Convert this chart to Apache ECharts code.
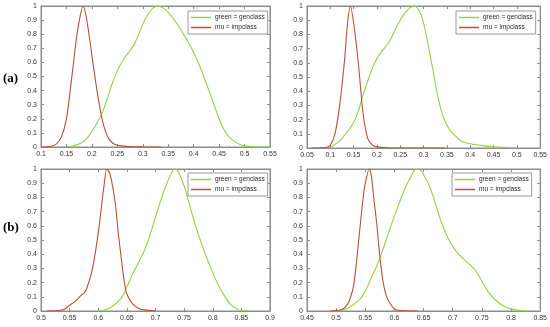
<!DOCTYPE html>
<html><head><meta charset="utf-8">
<script src="https://cdn.jsdelivr.net/npm/echarts@6/dist/echarts.min.js"></script>
<style>html,body{margin:0;padding:0;background:#fff}#c{width:550px;height:327px}</style>
</head><body><div id="c"></div>
<script>
// Panel (a) left
const a1Red = [[0.1,0],[0.12,0.005],[0.13,0.02],[0.14,0.07],[0.15,0.2],[0.16,0.48],[0.17,0.78],[0.177,0.93],[0.183,1.0],[0.19,0.9],[0.2,0.65],[0.21,0.4],[0.22,0.2],[0.23,0.08],[0.24,0.03],[0.25,0.012],[0.27,0.004],[0.3,0.001],[0.335,0]];
const a1Green = [[0.15,0],[0.16,0.005],[0.17,0.015],[0.18,0.03],[0.19,0.06],[0.2,0.11],[0.21,0.17],[0.22,0.24],[0.23,0.34],[0.24,0.45],[0.25,0.54],[0.26,0.61],[0.27,0.66],[0.28,0.71],[0.29,0.78],[0.3,0.87],[0.31,0.94],[0.32,0.985],[0.33,1.0],[0.34,0.985],[0.35,0.955],[0.36,0.91],[0.37,0.86],[0.38,0.8],[0.39,0.74],[0.4,0.67],[0.41,0.59],[0.42,0.5],[0.43,0.4],[0.44,0.3],[0.45,0.2],[0.46,0.12],[0.47,0.07],[0.48,0.04],[0.49,0.02],[0.5,0.008],[0.52,0],[0.55,0]];
// Panel (a) right
const a2Red = [[0.06,0],[0.09,0.003],[0.1,0.02],[0.11,0.1],[0.12,0.3],[0.13,0.6],[0.137,0.88],[0.143,1.0],[0.15,0.88],[0.16,0.6],[0.17,0.25],[0.18,0.07],[0.19,0.02],[0.2,0.008],[0.22,0.002],[0.25,0],[0.345,0]];
const a2Green = [[0.096,0],[0.1,0.005],[0.12,0.05],[0.14,0.13],[0.15,0.18],[0.16,0.26],[0.17,0.37],[0.18,0.47],[0.19,0.56],[0.2,0.63],[0.21,0.68],[0.22,0.72],[0.23,0.77],[0.24,0.84],[0.25,0.9],[0.26,0.95],[0.27,0.985],[0.28,1.0],[0.29,0.97],[0.3,0.88],[0.31,0.72],[0.32,0.55],[0.33,0.37],[0.34,0.24],[0.35,0.16],[0.36,0.11],[0.37,0.08],[0.38,0.05],[0.4,0.03],[0.43,0.015],[0.45,0.008],[0.5,0]];
// Panel (b) left
const b1Red = [[0.51,0],[0.53,0.003],[0.54,0.01],[0.55,0.04],[0.56,0.07],[0.57,0.11],[0.575,0.125],[0.58,0.16],[0.59,0.3],[0.6,0.55],[0.61,0.88],[0.615,1.0],[0.62,0.97],[0.625,0.88],[0.63,0.75],[0.635,0.55],[0.64,0.38],[0.645,0.22],[0.65,0.12],[0.66,0.05],[0.67,0.02],[0.68,0.008],[0.7,0]];
const b1Green = [[0.6,0],[0.62,0.02],[0.64,0.09],[0.65,0.17],[0.66,0.26],[0.67,0.34],[0.68,0.42],[0.69,0.53],[0.7,0.66],[0.71,0.79],[0.72,0.9],[0.73,0.99],[0.735,1.0],[0.74,0.98],[0.75,0.88],[0.76,0.74],[0.77,0.6],[0.78,0.48],[0.79,0.37],[0.8,0.27],[0.81,0.18],[0.82,0.11],[0.83,0.05],[0.84,0.02],[0.85,0.003],[0.86,0]];
// Panel (b) right
const b2Red = [[0.49,0],[0.51,0.01],[0.52,0.05],[0.525,0.1],[0.53,0.18],[0.535,0.35],[0.54,0.55],[0.545,0.75],[0.55,0.9],[0.557,1.0],[0.56,0.96],[0.565,0.78],[0.57,0.6],[0.575,0.38],[0.58,0.22],[0.585,0.12],[0.59,0.07],[0.6,0.015],[0.61,0.003],[0.64,0]];
const b2Green = [[0.5,0],[0.52,0.02],[0.54,0.08],[0.55,0.14],[0.56,0.23],[0.57,0.32],[0.58,0.43],[0.59,0.55],[0.6,0.67],[0.61,0.78],[0.62,0.88],[0.63,0.96],[0.637,1.0],[0.645,0.99],[0.65,0.96],[0.66,0.88],[0.67,0.76],[0.68,0.63],[0.69,0.53],[0.7,0.455],[0.71,0.4],[0.72,0.36],[0.73,0.325],[0.74,0.28],[0.75,0.21],[0.76,0.14],[0.77,0.09],[0.78,0.055],[0.79,0.03],[0.8,0.015],[0.81,0.006],[0.83,0]];

const xRanges = [[0.1,0.55],[0.05,0.55],[0.5,0.9],[0.45,0.85]];
const panelLabels = ['(a)','(b)'];
const legendNames = ['green = genclass','mu = impclass'];

const RED = '#b8503a', GREEN = '#8fd444';
const grids = [
  {left:41, right:280, top:6, bottom:180},
  {left:307, right:9, top:6, bottom:179},
  {left:41, right:280, top:169, bottom:16},
  {left:307, right:9, top:169, bottom:16}
];
const fmt = v => String(parseFloat(v.toFixed(2)));
const lblStyle = {color:'#333', fontSize:7, fontFamily:'Liberation Sans, Arial, sans-serif', margin:4};
const lineStyle = {lineStyle:{color:'#8c8c8c', width:1}};
const xAxis = [], yAxis = [];
grids.forEach((g,i)=>{
  g.show = true; g.borderColor = '#8c8c8c'; g.borderWidth = 1;
  xAxis.push({type:'value', gridIndex:i, min:xRanges[i][0], max:xRanges[i][1], interval:0.05,
    axisLine:{show:true, onZero:false, ...lineStyle}, axisTick:{show:true, inside:true, length:3, ...lineStyle},
    axisLabel:{...lblStyle, formatter:fmt, showMaxLabel:true, showMinLabel:true}, splitLine:{show:false}});
  xAxis.push({type:'value', gridIndex:i, position:'top', min:xRanges[i][0], max:xRanges[i][1], interval:0.05,
    axisLine:{show:true, onZero:false, ...lineStyle}, axisTick:{show:true, inside:true, length:3, ...lineStyle},
    axisLabel:{show:false}, splitLine:{show:false}});
  yAxis.push({type:'value', gridIndex:i, min:0, max:1, interval:0.1,
    axisLine:{show:true, onZero:false, ...lineStyle}, axisTick:{show:true, inside:true, length:3, ...lineStyle},
    axisLabel:{...lblStyle, formatter:fmt}, splitLine:{show:false}});
  yAxis.push({type:'value', gridIndex:i, position:'right', min:0, max:1, interval:0.1,
    axisLine:{show:true, onZero:false, ...lineStyle}, axisTick:{show:true, inside:true, length:3, ...lineStyle},
    axisLabel:{show:false}, splitLine:{show:false}});
});
const panels = [[a1Green,a1Red],[a2Green,a2Red],[b1Green,b1Red],[b2Green,b2Red]];
const series = [];
panels.forEach((p,i)=>{
  series.push({type:'line', name:legendNames[0], xAxisIndex:2*i, yAxisIndex:2*i, data:p[0], smooth:0.3,
    showSymbol:false, symbol:'none', lineStyle:{color:GREEN, width:1.1}, itemStyle:{color:GREEN}, silent:true});
  series.push({type:'line', name:legendNames[1], xAxisIndex:2*i, yAxisIndex:2*i, data:p[1], smooth:0.3,
    showSymbol:false, symbol:'none', lineStyle:{color:RED, width:1.1}, itemStyle:{color:RED}, silent:true});
});
const legPos = [{left:188, top:11},{left:456, top:11},{left:188, top:173},{left:452, top:173}];
const legend = legPos.map(p=>({
  data:legendNames, left:p.left, top:p.top, orient:'vertical', icon:'rect', itemWidth:20, itemHeight:1.5,
  itemGap:3, padding:[3,3,3,3], borderColor:'#9a9a9a', borderWidth:1, backgroundColor:'#fff',
  textStyle:{fontSize:6.5, color:'#262626', fontFamily:'Liberation Sans, Arial, sans-serif', padding:[0,0,0,-1]},
  selectedMode:false
}));
const option = {
  animation:false,
  grid:grids, xAxis, yAxis, series, legend,
  graphic:[
    {type:'text', left:3, top:72, style:{text:panelLabels[0], font:'bold 13px "Liberation Serif", "DejaVu Serif", serif', fill:'#000'}},
    {type:'text', left:3, top:221, style:{text:panelLabels[1], font:'bold 13px "Liberation Serif", "DejaVu Serif", serif', fill:'#000'}}
  ]
};
echarts.init(document.getElementById('c')).setOption(option);
</script></body></html>
